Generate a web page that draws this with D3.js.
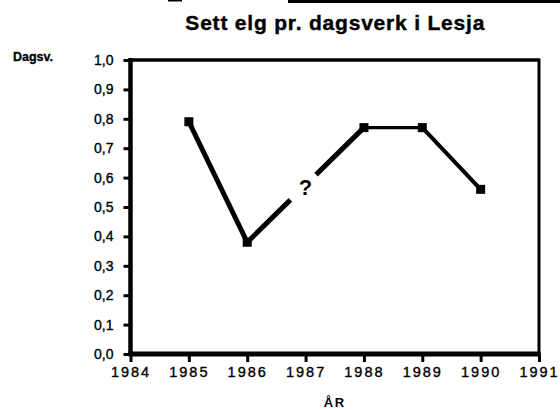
<!DOCTYPE html>
<html>
<head>
<meta charset="utf-8">
<script src="https://cdn.jsdelivr.net/npm/d3@7"></script>
<style>
  html, body { margin: 0; padding: 0; background: #fff; }
  svg { display: block; }
  text { font-family: "Liberation Sans", Arial, Helvetica, sans-serif; fill: #000; }
</style>
</head>
<body>
<svg id="chart" width="560" height="410"></svg>
<script>
// ---- data ----
const years = [1985, 1986, 1988, 1989, 1990];
const values = [0.79, 0.38, 0.77, 0.77, 0.56];
const xTicks = [1984, 1985, 1986, 1987, 1988, 1989, 1990, 1991];
const yTicks = [0, 0.1, 0.2, 0.3, 0.4, 0.5, 0.6, 0.7, 0.8, 0.9, 1.0];
const title = "Sett elg pr. dagsverk i Lesja";
const yLabel = "Dagsv.";
const xLabel = "ÅR";
const missingYear = 1987;
const missingMark = "?";

// ---- layout ----
const W = 560, H = 410;
const pLeft = 130.5, pRight = 539, pTop = 60, pBottom = 354;
const svg = d3.select("#chart");
svg.append("rect").attr("width", W).attr("height", H).attr("fill", "#fff");

const x = d3.scaleLinear().domain([1984, 1991]).range([pLeft, pRight]);
const y = d3.scaleLinear().domain([0, 1]).range([pBottom, pTop]);

// scan edge line at the very top
svg.append("rect").attr("x", 288).attr("y", 0).attr("width", W - 288).attr("height", 3).attr("fill", "#000");
svg.append("rect").attr("x", 168).attr("y", 0).attr("width", 14).attr("height", 1.5).attr("fill", "#000");

// title
svg.append("text")
  .attr("x", (pLeft + pRight) / 2 + 0.5)
  .attr("y", 29.5)
  .attr("text-anchor", "middle")
  .style("font-size", "21px")
  .style("font-weight", "bold")
  .style("letter-spacing", "0.8px")
  .attr("stroke", "#000").attr("stroke-width", 0.4)
  .text(title);

// y label
svg.append("text")
  .attr("x", 13)
  .attr("y", 61)
  .style("font-size", "12.5px")
  .style("font-weight", "bold")
  .attr("stroke", "#000").attr("stroke-width", 0.3)
  .text(yLabel);

// x label
svg.append("text")
  .attr("x", (pLeft + pRight) / 2)
  .attr("y", 406.5)
  .attr("text-anchor", "middle")
  .style("font-size", "13px")
  .style("font-weight", "bold")
  .style("letter-spacing", "1.5px")
  .text(xLabel);

// frame
const frame = svg.append("g");
frame.append("line").attr("x1", pLeft).attr("x2", pRight).attr("y1", pTop).attr("y2", pTop)
  .attr("stroke", "#000").attr("stroke-width", 3.5);
frame.append("line").attr("x1", pRight).attr("x2", pRight).attr("y1", pTop - 1.5).attr("y2", pBottom)
  .attr("stroke", "#000").attr("stroke-width", 3);

// axes
const yAxis = d3.axisLeft(y).tickValues(yTicks).tickSize(7).tickPadding(10)
  .tickFormat(d => d3.format(".1f")(d).replace(".", ","));
const gy = svg.append("g").attr("transform", `translate(${pLeft},0)`).call(yAxis);
gy.select(".domain").remove();
gy.selectAll(".tick line").attr("stroke", "#000").attr("stroke-width", 3);
gy.selectAll(".tick text")
  .style("font-size", "14px")
  .attr("fill", "#000").attr("stroke", "#000").attr("stroke-width", 0.35);

const xAxis = d3.axisBottom(x).tickValues(xTicks).tickSize(8).tickFormat(d3.format("d"));
const gx = svg.append("g").attr("transform", `translate(0,${pBottom})`).call(xAxis);
gx.select(".domain").remove();
gx.selectAll(".tick line").attr("stroke", "#000").attr("stroke-width", 3);
gx.selectAll(".tick text")
  .attr("y", 23).attr("dy", 0)
  .style("font-size", "14.5px")
  .style("letter-spacing", "2px")
  .attr("dx", "0px")
  .attr("fill", "#000").attr("stroke", "#000").attr("stroke-width", 0.35);

frame.raise();
frame.append("line").attr("x1", pLeft).attr("x2", pLeft).attr("y1", pTop - 2).attr("y2", pBottom + 2)
  .attr("stroke", "#000").attr("stroke-width", 4.5);
frame.append("line").attr("x1", pLeft - 2).attr("x2", pRight + 1.5).attr("y1", pBottom).attr("y2", pBottom)
  .attr("stroke", "#000").attr("stroke-width", 5);

// line segments
const segWidths = [5, 5, 3.2, 4];
const gapStart = 0.37, gapEnd = 0.59; // fraction of the segment hidden behind "?"
for (let i = 0; i < years.length - 1; i++) {
  const x1 = x(years[i]), y1 = y(values[i]), x2 = x(years[i + 1]), y2 = y(values[i + 1]);
  const seg = svg.append("line")
    .attr("x1", x1).attr("y1", y1).attr("x2", x2).attr("y2", y2)
    .attr("stroke", "#000").attr("stroke-width", segWidths[i]);
  if (years[i] < missingYear && years[i + 1] > missingYear) {
    const len = Math.hypot(x2 - x1, y2 - y1);
    seg.attr("stroke-dasharray", `${len * gapStart} ${len * (gapEnd - gapStart)} ${len}`);
  }
}

// missing-year mark
svg.append("text")
  .attr("x", x(missingYear))
  .attr("y", y(0.57) + 9)
  .attr("text-anchor", "middle")
  .style("font-size", "22px")
  .style("font-weight", "bold")
  .text(missingMark);

// markers
svg.selectAll("rect.pt").data(years).enter().append("rect")
  .attr("class", "pt")
  .attr("x", d => x(d) - 4.5)
  .attr("y", (d, i) => y(values[i]) - 4.5)
  .attr("width", 9).attr("height", 9)
  .attr("fill", "#000");
</script>
</body>
</html>
